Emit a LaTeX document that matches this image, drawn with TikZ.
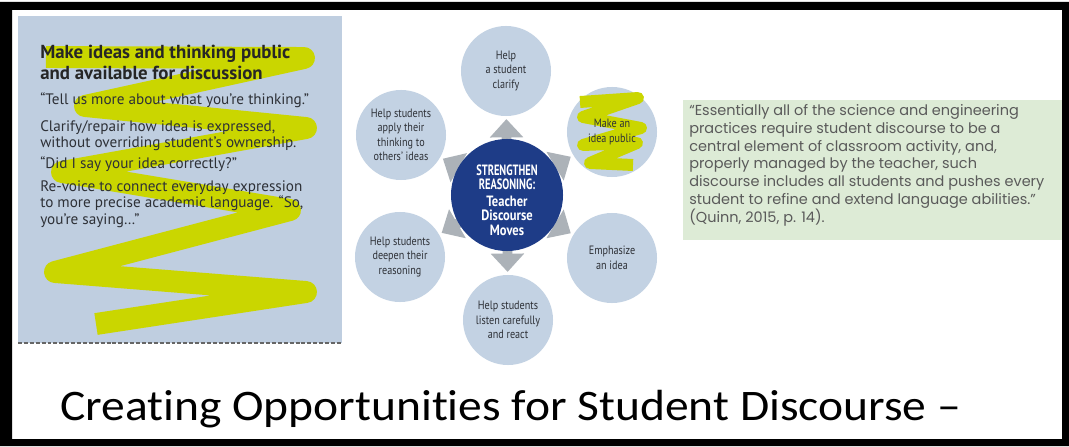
\documentclass[tikz,border=0pt]{standalone}
\usepackage{fontspec}
\setmainfont{Carlito}
\newfontfamily\titlefont[FakeStretch=1.09, Ligatures=NoCommon]{Carlito}
\newfontfamily\myriad{PT Sans}
\newfontfamily\myriadcond[FakeStretch=0.84]{PT Sans}
\newfontfamily\capcond[FakeStretch=0.7]{PT Sans}
\newfontfamily\gothic{Poppins}
\usetikzlibrary{arrows.meta}

\definecolor{panelblue}{RGB}{191,206,224}
\definecolor{movefill}{RGB}{195,210,227}
\definecolor{hubblue}{RGB}{30,60,135}
\definecolor{spokegrey}{RGB}{172,178,184}
\definecolor{marker}{RGB}{202,214,0}
\definecolor{quotegreen}{RGB}{221,235,214}
\definecolor{quotetext}{RGB}{90,90,90}
\definecolor{inktext}{RGB}{45,48,54}

\begin{document}
\begin{tikzpicture}[x=0.025cm, y=-0.025cm]
		
		% Define basic styles
		\tikzset{
			move/.style={
				circle, fill=movefill, minimum size=2.25cm, inner sep=0pt,
				align=center, text=inktext,
				font=\myriadcond\fontsize{8.6}{10.3}\selectfont
			},
			hub/.style={
				circle, fill=hubblue, minimum size=2.8cm, inner sep=0pt
			},
			hubtext/.style={
				align=center, text=white, inner sep=0pt,
				font=\myriadcond\bfseries\fontsize{10.6}{10.2}\selectfont
			},
			spoke/.style={
				line width=7pt, draw=spokegrey,
				-{Triangle[length=13pt, width=23pt]}, shorten >=2pt
			},
			highlight/.style={
				draw=marker, line join=round, line cap=butt
			},
			paneltitle/.style={
				inner sep=0pt, align=left, text=black!85,
				font=\myriad\bfseries\fontsize{13.4}{15.6}\selectfont
			},
			panelbody/.style={
				inner sep=0pt, align=left, text=inktext,
				font=\myriad\fontsize{10.8}{11.7}\selectfont
			},
			quotetext/.style={
				inner sep=0pt, text=quotetext, align=left,
				font=\gothic\fontsize{10.3}{12.6}\selectfont
			},
			slidetitle/.style={
				inner sep=0pt, text=black, font=\titlefont\fontsize{31}{36}\selectfont
			}
		}
		
		% Frame
		\useasboundingbox (0,0) rectangle (1069,446);
		\fill[white] (0,0) rectangle (1069,446);
		\fill[black, even odd rule] (0,2) rectangle (1069,446) (12,10) rectangle (1062,439);
		
		% Left panel
		\fill[panelblue] (18,16) rectangle (342,343);
		\draw[black!60, line width=1pt, dash pattern=on 2.8pt off 1.4pt] (18,343) -- (342,343);
		\draw[highlight, line width=15.6pt] (46,57) -- (304,58) -- (85,106) -- (306,128)
			-- (62,172) -- (290,210) -- (55,272) -- (306,292) -- (96,324);
		\node[paneltitle, anchor=base west] (ptitle) at (40,80) {Make ideas and thinking public\\and available for discussion};
		\node[panelbody, anchor=base west] (tell) at (40,105) {“Tell us more about what you’re thinking.”};
		\node[panelbody, anchor=base west] (repair) at (40,148) {Clarify/repair how idea is expressed,\\without overriding student’s ownership.};
		\node[panelbody, anchor=base west] (check) at (40,168) {“Did I say your idea correctly?”};
		\node[panelbody, anchor=base west] (revoice) at (40,224) {Re-voice to connect everyday expression\\to more precise academic language. “So,\\you’re saying…”};
		
		% Circles
		\node[move] (clarify) at (506,71) {Help\\a student\\clarify};
		\node[move] (public) at (612,132) {};
		\node[move] (emphasize) at (612,258) {Emphasize\\an idea};
		\node[move] (listen) at (508,320) {Help students\\listen carefully\\and react};
		\node[move] (deepen) at (400,257) {Help students\\deepen their\\reasoning};
		\node[move] (apply) at (401,135) {Help students\\apply their\\thinking to\\others’ ideas};
		\draw[highlight, line width=8.5pt] (580,102) -- (638,98) -- (583,117) -- (641,128)
			-- (583,145) -- (637,143) -- (590,163) -- (633,165);
		\node[text=inktext, align=center, font=\myriadcond\fontsize{8.6}{10.3}\selectfont] (publictext) at (public) {Make an\\idea public};
		
		% Arrows
		\coordinate (mid) at (507,195);
		\draw[spoke] (mid) -- (clarify);
		\draw[spoke] (mid) -- (public);
		\draw[spoke] (mid) -- (emphasize);
		\draw[spoke] (mid) -- (listen);
		\draw[spoke] (mid) -- (deepen);
		\draw[spoke] (mid) -- (apply);
		\node[hub] (hub) at (mid) {};
		\node[hubtext] (hubtitle) at (507,200) {{\capcond STRENGTHEN}\\{\capcond REASONING:}\\[2pt]Teacher\\Discourse\\Moves};
		
		% Quote and title
		\fill[quotegreen] (683,100) rectangle (1062,240);
		\node[quotetext, anchor=base west] (quote) at (689,222) {“Essentially all of the science and engineering\\practices require student discourse to be a\\central element of classroom activity, and,\\properly managed by the teacher, such\\discourse includes all students and pushes every\\student to refine and extend language abilities.”\\(Quinn, 2015, p. 14).};
		\node[slidetitle, anchor=base west] (title) at (60,420) {Creating Opportunities for Student Discourse –};
		
	\end{tikzpicture}
\end{document}
